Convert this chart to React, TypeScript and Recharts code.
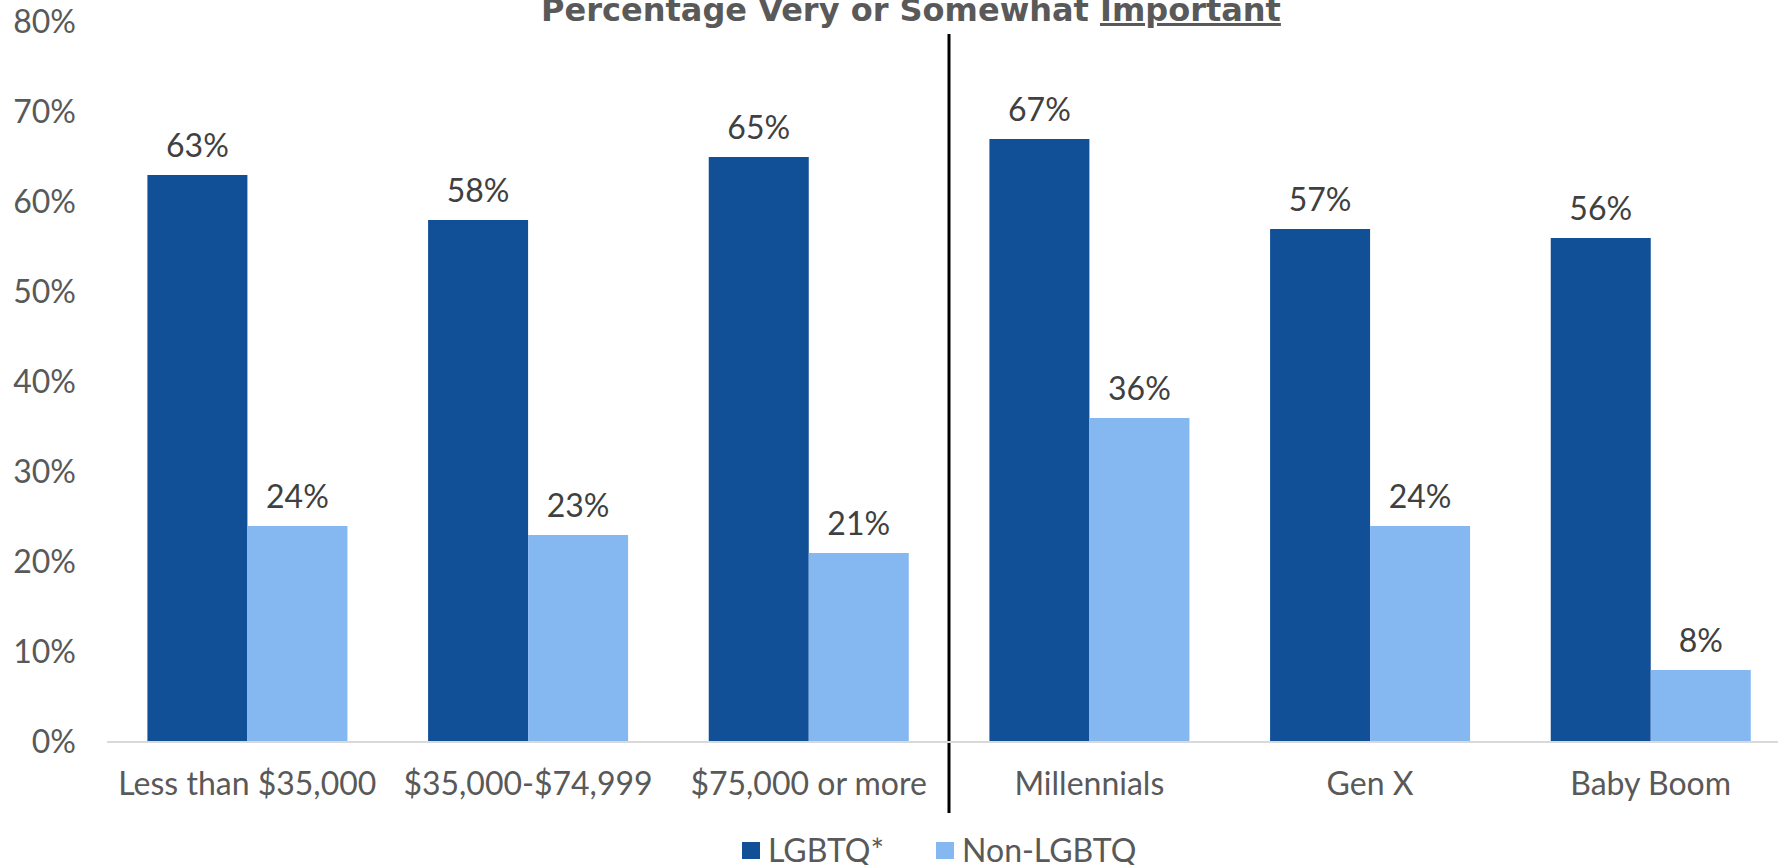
import { BarChart, Bar, XAxis, YAxis, Legend, LabelList, ReferenceLine } from "recharts";

const categories = [
  "Less than $35,000",
  "$35,000-$74,999",
  "$75,000 or more",
  "Millennials",
  "Gen X",
  "Baby Boom",
];
const lgbtqValues = [63, 58, 65, 67, 57, 56];
const nonLgbtqValues = [24, 23, 21, 36, 24, 8];
const yTicks = [0, 10, 20, 30, 40, 50, 60, 70, 80];

const DARK = "#114F96";
const LIGHT = "#85B7F0";
const FONT = "Lato, 'Open Sans', sans-serif";

const data = categories.map((c, i) => ({
  category: c,
  lgbtq: lgbtqValues[i],
  nonLgbtq: nonLgbtqValues[i],
}));

const legendItems = [
  { name: "LGBTQ*", color: DARK },
  { name: "Non-LGBTQ", color: LIGHT },
];

function ChartLegend() {
  return (
    <div style={{ display: "flex", alignItems: "center", fontFamily: FONT, fontSize: 32, lineHeight: "30px", color: "#595959" }}>
      {legendItems.map((item, i) => (
        <div key={item.name} style={{ display: "flex", alignItems: "center", marginRight: i === 0 ? 52 : 0 }}>
          <span style={{ width: 18, height: 17, background: item.color, marginRight: 8, display: "inline-block" }} />
          <span>{item.name}</span>
        </div>
      ))}
    </div>
  );
}

// divider between the income and generation groups, drawn past the plot edges
const dividerShape = (p: any) => {
  const top = Math.min(p.y1, p.y2);
  const bottom = Math.max(p.y1, p.y2);
  return <line x1={p.x1} x2={p.x2} y1={top + 12} y2={bottom + 71} stroke="#000" strokeWidth={3} />;
};

export default function App() {
  return (
    <div
      style={{
        position: "absolute",
        left: 0,
        top: 0,
        width: 1778,
        height: 865,
        overflow: "hidden",
        background: "#fff",
        fontFamily: FONT,
      }}
    >
      <BarChart
        width={1800}
        height={865}
        data={data}
        margin={{ top: 22, right: 9, bottom: 93, left: 0 }}
        barCategoryGap="14.4%"
        barGap={0}
      >
        <XAxis
          dataKey="category"
          height={30}
          axisLine={{ stroke: "#D9D9D9", strokeWidth: 2 }}
          tickLine={false}
          tickSize={0}
          tickMargin={30}
          interval={0}
          tick={{ fill: "#595959", fontSize: 32, fontFamily: FONT }}
        />
        <YAxis
          width={107}
          domain={[0, 80]}
          ticks={yTicks}
          tickFormatter={(v) => `${v}%`}
          axisLine={false}
          tickLine={false}
          tickSize={0}
          tickMargin={31}
          tick={{ fill: "#595959", fontSize: 32, fontFamily: FONT }}
        />
        <Legend
          layout="horizontal"
          verticalAlign="middle"
          align="center"
          wrapperStyle={{ left: 742, top: 835, width: 600 }}
          content={() => <ChartLegend />}
        />
        <Bar dataKey="lgbtq" name="LGBTQ*" fill={DARK} isAnimationActive={false}>
          <LabelList
            dataKey="lgbtq"
            position="top"
            offset={18}
            formatter={(v: any) => `${v}%`}
            style={{ fill: "#404040", fontSize: 32, fontFamily: FONT }}
          />
        </Bar>
        <Bar dataKey="nonLgbtq" name="Non-LGBTQ" fill={LIGHT} isAnimationActive={false}>
          <LabelList
            dataKey="nonLgbtq"
            position="top"
            offset={18}
            formatter={(v: any) => `${v}%`}
            style={{ fill: "#404040", fontSize: 32, fontFamily: FONT }}
          />
        </Bar>
        <ReferenceLine
          x={categories[2]}
          position="end"
          ifOverflow="visible"
          stroke="#000"
          strokeWidth={3}
          shape={dividerShape}
        />
      </BarChart>
      <div
        style={{
          position: "absolute",
          left: 0,
          top: -5,
          width: 1822,
          textAlign: "center",
          fontFamily: "'DejaVu Sans', sans-serif",
          fontWeight: 700,
          fontSize: 32,
          lineHeight: "30px",
          color: "#595959",
        }}
      >
        Percentage Very or Somewhat{" "}
        <span style={{ textDecoration: "underline", textDecorationThickness: 3, textUnderlineOffset: 2 }}>
          Important
        </span>
      </div>
    </div>
  );
}
